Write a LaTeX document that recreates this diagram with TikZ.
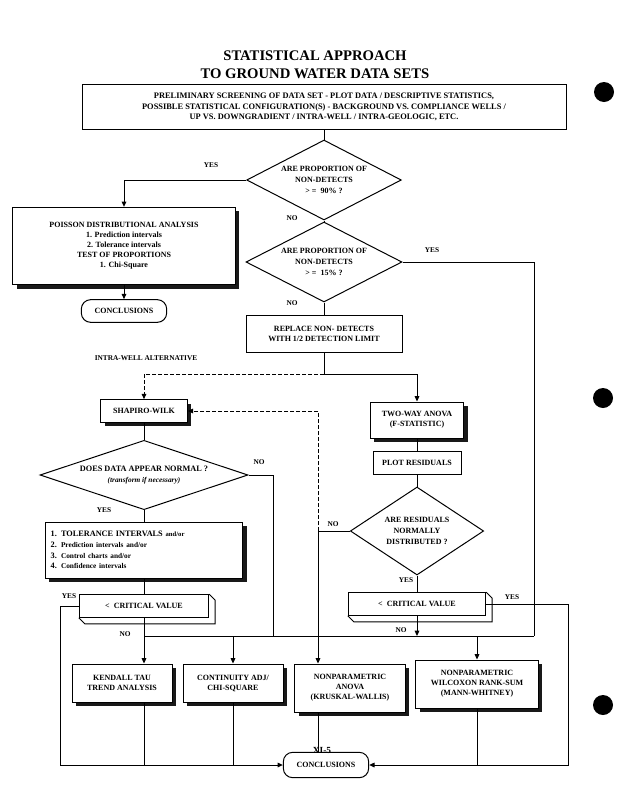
\documentclass[tikz,border=0pt]{standalone}
\usepackage{fontspec}
\setmainfont{Liberation Serif}
\usetikzlibrary{shapes.geometric,shadows,arrows.meta}
\tikzset{every picture/.style={line width=0.75pt}}
\tikzset{
	box/.style={draw, rectangle, fill=white, inner sep=1pt, align=center, font=\fontsize{6}{7.5}\selectfont\bfseries},
	sbox/.style={box, drop shadow={shadow xshift=3pt, shadow yshift=-3pt, fill=black, opacity=0.9}},
	dec/.style={draw, diamond, inner sep=0pt, align=center, font=\fontsize{6}{8.2}\selectfont\bfseries},
	term/.style={box, rounded corners=7pt},
	lbl/.style={inner sep=1pt, font=\fontsize{5.5}{6}\selectfont\bfseries},
	arr/.style={-{Triangle[length=4pt,width=3.5pt]}},
	alt/.style={dash pattern=on 3pt off 1.5pt}
}
\begin{document}
\begin{tikzpicture}[x=0.75pt,y=0.75pt,yscale=-1,xscale=1]
	\useasboundingbox (0,0) rectangle (618,800);

	% Title
	\node[font=\fontsize{11}{13.5}\selectfont\bfseries, align=center] (title) at (315,65) {STATISTICAL APPROACH\\TO GROUND WATER DATA SETS};

	% Screening box
	\node[box, minimum width=363pt, minimum height=34pt, font=\fontsize{6.3}{7.9}\selectfont\bfseries] (screen) at (324,107) {PRELIMINARY SCREENING OF DATA SET - PLOT DATA / DESCRIPTIVE STATISTICS,\\POSSIBLE STATISTICAL CONFIGURATION(S) - BACKGROUND VS. COMPLIANCE WELLS /\\UP VS. DOWNGRADIENT / INTRA-WELL / INTRA-GEOLOGIC, ETC.};

	% Decisions on non-detects
	\node[dec, aspect=2, minimum width=116pt, minimum height=60pt] (ndA) at (324,180) {ARE PROPORTION OF\\NON-DETECTS\\> = \ 90\% ?};
	\node[dec, aspect=2, minimum width=117pt, minimum height=60pt] (ndB) at (324,262) {ARE PROPORTION OF\\NON-DETECTS\\> = \ 15\% ?};

	% Poisson branch
	\node[sbox, minimum width=167pt, minimum height=58pt] (poisson) at (124,246) {POISSON DISTRIBUTIONAL ANALYSIS\\1. Prediction intervals\\2. Tolerance intervals\\TEST OF PROPORTIONS\\1. Chi-Square};
	\node[term, minimum width=64pt, minimum height=17pt] (conclA) at (124,311) {CONCLUSIONS};

	% Replace box
	\node[box, minimum width=117pt, minimum height=28pt] (replace) at (324,334) {REPLACE NON- DETECTS\\WITH 1/2 DETECTION LIMIT};
	\coordinate (split) at (324,374);
	\node[lbl] (intra) at (146,358) {INTRA-WELL ALTERNATIVE};

	% Intra-well column
	\node[sbox, minimum width=65pt, minimum height=17pt] (shapiro) at (144,411) {SHAPIRO-WILK};
	\node[dec, aspect=3, minimum width=156pt, minimum height=52pt, font=\fontsize{6.2}{8}\selectfont\bfseries] (normal) at (144,475) {DOES DATA APPEAR NORMAL ?\\{\itshape\fontsize{5.5}{8}\selectfont (transform if necessary)}};
	\node[sbox, minimum width=148pt, minimum height=42pt, text width=140pt, align=left, font=\fontsize{6.2}{8}\selectfont\bfseries] (tol) at (144,550) {1. TOLERANCE INTERVALS {\fontsize{5}{8}\selectfont and/or}\\2. {\fontsize{5.5}{8}\selectfont Prediction intervals and/or}\\3. {\fontsize{5.5}{8}\selectfont Control charts and/or}\\4. {\fontsize{5.5}{8}\selectfont Confidence intervals}};
	\node[box, minimum width=97pt, minimum height=17pt] (critL) at (144,606) {<\ \ CRITICAL VALUE};
	\draw (critL.north east) -- ++(6,6) -- ([shift={(6,6)}]critL.south east) -- ([shift={(6,6)}]critL.south west) -- (critL.south west);

	% Two-way column
	\node[sbox, minimum width=70pt, minimum height=27pt] (twoway) at (417,420) {TWO-WAY ANOVA\\(F-STATISTIC)};
	\node[box, minimum width=66pt, minimum height=17pt] (resid) at (417,463) {PLOT RESIDUALS};
	\node[dec, aspect=1.5, minimum width=100pt, minimum height=66pt] (resnorm) at (417,531) {ARE RESIDUALS\\NORMALLY\\DISTRIBUTED ?};
	\node[box, minimum width=103pt, minimum height=17pt] (critR) at (417,604) {<\ \ CRITICAL VALUE};
	\draw (critR.north east) -- ++(6,6) -- ([shift={(6,6)}]critR.south east) -- ([shift={(6,6)}]critR.south west) -- (critR.south west);

	% Test boxes
	\node[sbox, minimum width=75pt, minimum height=28.5pt] (kendall) at (122,683) {KENDALL TAU\\TREND ANALYSIS};
	\node[sbox, minimum width=75pt, minimum height=28.5pt] (contin) at (233,683) {CONTINUITY ADJ/\\CHI-SQUARE};
	\node[sbox, minimum width=83pt, minimum height=36pt] (npanova) at (350,688) {NONPARAMETRIC\\ANOVA\\(KRUSKAL-WALLIS)};
	\node[sbox, minimum width=92pt, minimum height=36pt] (wilcox) at (477,684) {NONPARAMETRIC\\WILCOXON RANK-SUM\\(MANN-WHITNEY)};
	\node[term, minimum width=64pt, minimum height=19pt] (conclB) at (326,765) {CONCLUSIONS};
	\node[lbl, font=\fontsize{7}{7}\selectfont\bfseries] (page) at (322,750) {XI-5};

	% Routing points
	\coordinate (busL) at (144,636);
	\coordinate (busR) at (534,636);
	\coordinate (busN) at (273,636);
	\coordinate (npJ) at (318,531);
	\coordinate (loopL) at (60,765);
	\coordinate (loopR) at (568,765);

	% Connectors
	\draw (screen.south -| ndA.north) -- (ndA.north);
	\draw[arr] (ndA.west) -| (poisson.north);
	\draw (ndA.south) -- (ndB.north);
	\draw (ndB.east) -| (busR);
	\draw (ndB.south) -- (replace.north);
	\draw[arr] (poisson.south) -- (conclA.north);
	\draw (replace.south) -- (split);
	\draw[arr, alt] (split) -| (shapiro.north);
	\draw[arr] (split) -| (twoway.north);
	\draw (shapiro.south) -- (normal.north);
	\draw (normal.east) -| (busN);
	\draw (normal.south) -- (tol.north);
	\draw (tol.south) -- (critL.north);
	\draw[arr] (critL.west) -| (loopL) -- (conclB.west);
	\draw[arr] (critL.south) -- (critL.south |- kendall.north);
	\draw (busL) -- (busR);
	\draw[arr] (contin.north |- busL) -- (contin.north);
	\draw[arr] (wilcox.north |- busL) -- (wilcox.north);
	\draw (twoway.south) -- (resid.north);
	\draw (resid.south) -- (resnorm.north);
	\draw (resnorm.south) -- (critR.north);
	\draw (resnorm.west) -- (npJ);
	\draw[arr] (npJ) -- (npJ |- npanova.north);
	\draw[arr, alt] (npJ) |- (shapiro.east);
	\draw[arr] (critR.south) -- (critR.south |- busL);
	\draw[arr] (critR.east) -| (loopR) -- (conclB.east);
	\draw (critL.south |- kendall.south) -- (critL.south |- loopL);
	\draw (contin.south) -- (contin.south |- loopL);
	\draw (npJ |- npanova.south) -- (npJ |- conclB.north);
	\draw (wilcox.south) -- (wilcox.south |- loopR);

	% Branch labels
	\node[lbl] (yesA) at (211,165) {YES};
	\node[lbl] (noA) at (292,218) {NO};
	\node[lbl] (yesB) at (432,250) {YES};
	\node[lbl] (noB) at (292,303) {NO};
	\node[lbl] (noN) at (259,462) {NO};
	\node[lbl] (yesN) at (104,510) {YES};
	\node[lbl] (yesL) at (69,596) {YES};
	\node[lbl] (noL) at (125,634) {NO};
	\node[lbl] (noR) at (333,524) {NO};
	\node[lbl] (yesR) at (406,580) {YES};
	\node[lbl] (yesC) at (512,597) {YES};
	\node[lbl] (noC) at (401,630) {NO};

	% Punched holes
	\fill (604,92) circle[radius=7.5pt];
	\fill (603,398) circle[radius=7.5pt];
	\fill (603,705) circle[radius=7.5pt];
\end{tikzpicture}
\end{document}
